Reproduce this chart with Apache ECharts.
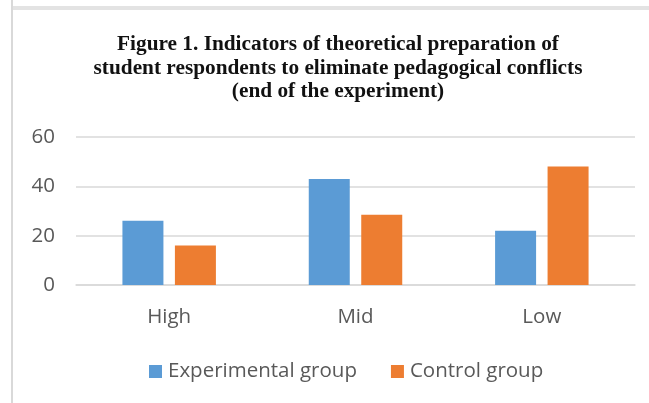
<!DOCTYPE html>
<html>
<head>
<meta charset="utf-8">
<script src="https://cdn.jsdelivr.net/npm/echarts@6/dist/echarts.min.js"></script>
<style>
  html, body { margin: 0; padding: 0; background: #fff; }
  #wrap { position: relative; width: 649px; height: 403px; overflow: hidden; }
  #chart { position: absolute; left: 0; top: 0; width: 649px; height: 403px; }
  .edge-left { position: absolute; left: 11px; top: 0; width: 2px; height: 403px; background: #d9d9d9; }
  .edge-top { position: absolute; left: 13px; top: 6px; width: 636px; height: 4px; background: #e3e3e3; }
</style>
</head>
<body>
<div id="wrap">
  <div id="chart"></div>
  <div class="edge-left"></div>
  <div class="edge-top"></div>
</div>
<script>
  // data
  var categories = ['High', 'Mid', 'Low']
  var experimental = [26, 43, 22]
  var control = [16, 28.5, 48]
  var seriesNames = ['Experimental group', 'Control group']
  var titleLines = [
    'Figure 1. Indicators of theoretical preparation of',
    'student respondents to eliminate pedagogical conflicts',
    '(end of the experiment)'
  ]

  var labelFont = '"Open Sans", Lato, sans-serif'
  var labelSize = 20.5
  var mychart = echarts.init(document.getElementById('chart'))

  var option = {
    animation: false,
    color: ['#5b9bd5', '#ed7d31'],
    title: {
      text: titleLines.join('\n'),
      left: 338,
      top: 33,
      padding: 0,
      textAlign: 'center',
      textStyle: {
        fontFamily: '"Liberation Serif", "Times New Roman", serif',
        fontWeight: 'bold',
        fontSize: 21.3,
        lineHeight: 23.5,
        color: '#111'
      }
    },
    legend: {
      data: seriesNames,
      left: 144,
      top: 356,
      itemWidth: 13,
      itemHeight: 13,
      itemGap: 34,
      icon: 'rect',
      textStyle: {
        fontFamily: labelFont,
        fontSize: labelSize,
        color: '#595959',
        padding: [0, 0, 0, 1]
      }
    },
    grid: {
      left: 76,
      right: 14,
      top: 137,
      bottom: 118
    },
    xAxis: {
      type: 'category',
      data: categories,
      axisTick: { show: false },
      axisLine: { lineStyle: { color: '#d9d9d9', width: 1.5 } },
      axisLabel: {
        margin: 22,
        fontFamily: labelFont,
        fontSize: labelSize,
        color: '#595959'
      }
    },
    yAxis: {
      type: 'value',
      min: 0,
      max: 60,
      interval: 20,
      axisLine: { show: false },
      axisTick: { show: false },
      axisLabel: {
        margin: 21,
        fontFamily: labelFont,
        fontSize: labelSize,
        color: '#595959'
      },
      splitLine: { lineStyle: { color: '#d9d9d9', width: 1.5 } }
    },
    series: [{
      name: seriesNames[0],
      type: 'bar',
      data: experimental,
      barWidth: 41,
      barGap: '28%'
    }, {
      name: seriesNames[1],
      type: 'bar',
      data: control,
      barWidth: 41
    }]
  }

  mychart.setOption(option)
</script>
</body>
</html>
